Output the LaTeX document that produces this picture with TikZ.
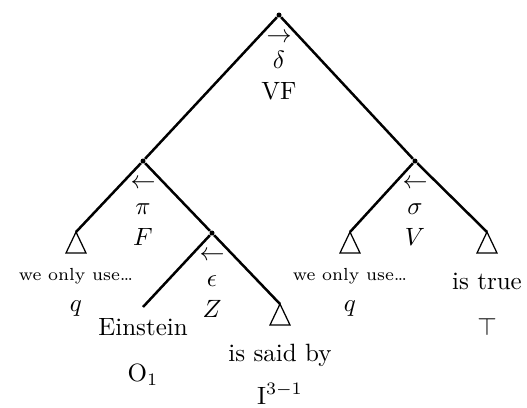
\documentclass[tikz,border=0pt]{standalone}
\usepackage{amsmath}
\usetikzlibrary{positioning}
\begin{document}
\begin{tikzpicture}[x=0.4pt,y=-0.4pt,
    dot/.style={circle,fill,inner sep=0pt,minimum size=2pt},
    branch/.style={line width=1pt},
    roof/.style={line width=0.5pt},
    info/.style={align=center,inner sep=0pt},
    word/.style={inner sep=0pt,text height=7pt,text depth=2pt},
    small/.style={word,font=\scriptsize,text height=5pt,text depth=1.5pt}]
    \useasboundingbox (0,0) rectangle (527,407);
    % inner nodes
    \node[dot] (vf) at (279,15) {};
    \node[dot] (f) at (143,161) {};
    \node[dot] (v) at (415,161) {};
    \node[dot] (z) at (212,233) {};
    \node[info,below=6pt of vf] {$\rightarrow$\\[-1.7pt]$\delta$\\[0.6pt]VF};
    \node[info,below=6pt of f] {$\leftarrow$\\[-1.7pt]$\pi$\\[0.6pt]$F$};
    \node[info,below=6pt of v] {$\leftarrow$\\[-1.7pt]$\sigma$\\[0.6pt]$V$};
    \node[info,below=6pt of z] {$\leftarrow$\\[-1.7pt]$\epsilon$\\[0.6pt]$Z$};
    % leaves
    \coordinate (qa) at (76,232);
    \coordinate (qb) at (350,232);
    \coordinate (tr) at (487,232);
    \coordinate (o) at (143,307);
    \coordinate (i) at (280,304);
    \draw[roof] (qa) -- +(-10,21) -- +(10,21) -- cycle;
    \draw[roof] (qb) -- +(-10,21) -- +(10,21) -- cycle;
    \draw[roof] (tr) -- +(-10,21) -- +(10,21) -- cycle;
    \draw[roof] (i) -- +(-10,21) -- +(10,21) -- cycle;
    \node[small,below=14.2pt of qa] (qaw) {we only use\ldots};
    \node[word,below=3.5pt of qaw] {$q$};
    \node[small,below=14.2pt of qb] (qbw) {we only use\ldots};
    \node[word,below=3.5pt of qbw] {$q$};
    \node[word,below=15.9pt of tr] (trw) {is true};
    \node[word,below=9pt of trw] {$\top$};
    \node[word,below=4.3pt of o] (ow) {Einstein};
    \node[word,below=9pt of ow] {O$_1$};
    \node[word,below=15.6pt of i] (iw) {is said by};
    \node[word,below=7.8pt of iw] {I$^{3-1}$};
    % branches
    \draw[branch] (vf) -- (f); \draw[branch] (vf) -- (v);
    \draw[branch] (f) -- (qa); \draw[branch] (f) -- (z);
    \draw[branch] (z) -- (o); \draw[branch] (z) -- (i);
    \draw[branch] (v) -- (qb); \draw[branch] (v) -- (tr);
\end{tikzpicture}
\end{document}
